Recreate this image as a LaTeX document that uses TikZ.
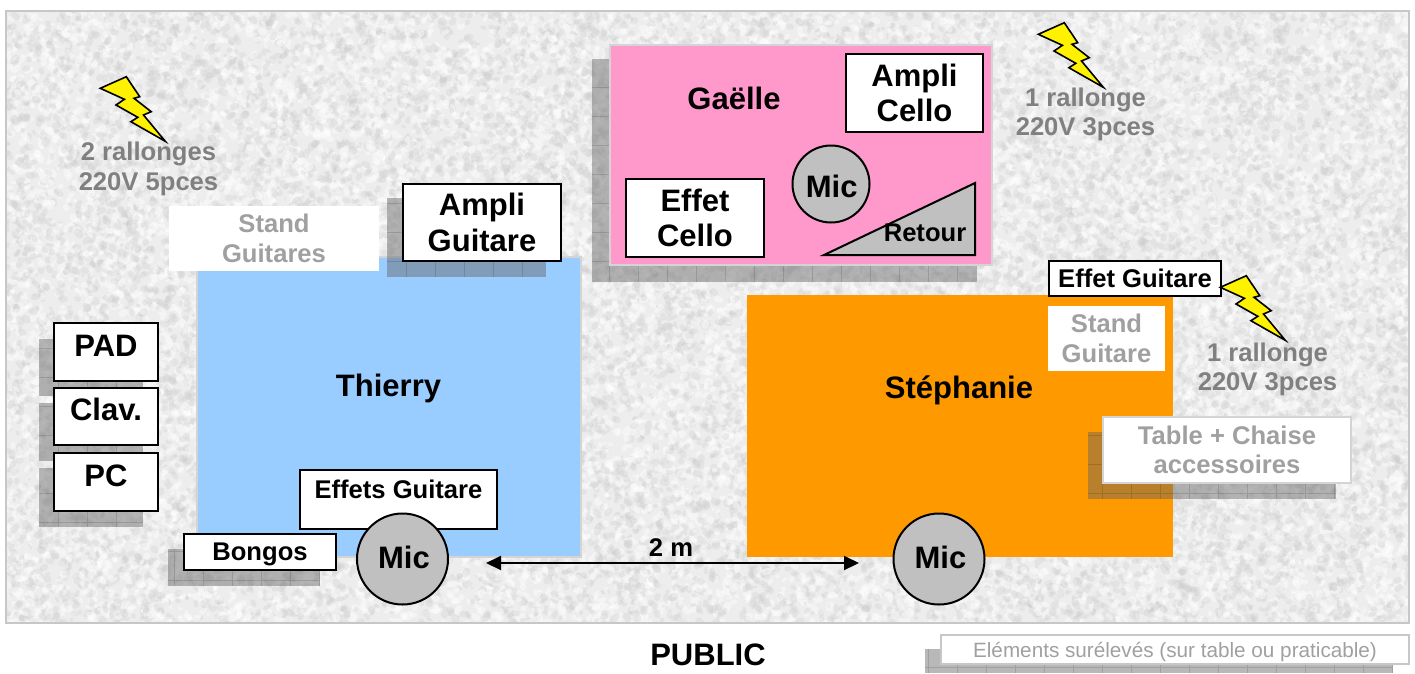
\documentclass[tikz,border=0pt]{standalone}
\usepackage{fontspec}
\usetikzlibrary{arrows.meta}
\setmainfont{Liberation Sans}
\newcommand{\fbig}{\fontsize{31}{35.5}\selectfont\bfseries}
\newcommand{\fmid}{\fontsize{25.6}{29.5}\selectfont\bfseries}
\newcommand{\shadowrect}[4]{%
  \fill[shadowfill] (#1,#2) rectangle (#3,#4);
  \begin{scope}
    \clip (#1,#2) rectangle (#3,#4);
    \draw[shadowgrid] (#1,#2) ++(-0.5,-0.5) grid[step=29pt] (#3,#4);
  \end{scope}}
\definecolor{thierryblue}{HTML}{99CCFF}
\definecolor{gaellepink}{HTML}{FF99CC}
\definecolor{stephorange}{HTML}{FF9900}
\definecolor{micgray}{HTML}{C0C0C0}
\definecolor{labelgray}{HTML}{808080}
\definecolor{palegray}{HTML}{A0A0A0}
\definecolor{edgegray}{HTML}{D4D4D4}
\definecolor{shadowgray}{HTML}{626262}
\tikzset{
  shadowfill/.style={fill=shadowgray,fill opacity=.45},
  shadowgrid/.style={draw=black,draw opacity=.13,line width=.8pt},
  zone/.style={draw=edgegray,line width=1.5pt,inner sep=0pt},
  blackbox/.style={draw=black,fill=white,line width=2pt,inner sep=0pt,align=center,text=black},
  palebox/.style={fill=white,inner sep=0pt,align=center,text=palegray,font=\fmid},
  micnode/.style={circle,draw=black,fill=micgray,line width=2pt,inner sep=0pt,font=\fbig},
  bolt/.style={fill=yellow,draw=black,line width=1.6pt,line join=miter},
  greytext/.style={text=labelgray,font=\fmid,align=center,inner sep=0pt},
  nametext/.style={font=\fbig,inner sep=0pt,text=black}
}
\newcommand{\boltshape}[2]{%
  \draw[bolt,shift={(#1,#2)}] (100.3,88.3) -- (126.3,76.7) -- (139.7,96.7) -- (134,98.3) -- (151.2,111.7) -- (143.5,115) -- (165.3,141.3) -- (130.9,121.7) -- (137.8,117.3) -- (116,105) -- (124.4,99.3) -- cycle;}
\begin{document}
\begin{tikzpicture}[x=1pt,y=-1pt]
\useasboundingbox (0,0) rectangle (1415,673);
\fill[white] (0,0) rectangle (1415,673);
% textured floor
\fill[white!93!black] (6,11) rectangle (1409,623);
\begin{scope}
  \clip (6,11) rectangle (1409,623);
  \pgfmathsetseed{1234}
  \foreach \j in {1,...,150}{
    \pgfmathsetmacro{\wa}{random(25,70)/10}
    \pgfmathsetmacro{\wb}{random(25,70)/10}
    \draw[white!80!black,draw opacity=.3,line cap=round,line width=\wa pt] foreach \i in {1,...,100} {({random(6,1409)},{random(11,623)}) -- ++({random(-3,3)},{random(-3,3)})};
    \draw[white,draw opacity=.4,line cap=round,line width=\wb pt] foreach \i in {1,...,100} {({random(6,1409)},{random(11,623)}) -- ++({random(-3,3)},{random(-3,3)})};
  }
\end{scope}
\draw[white!78!black,line width=2pt] (6,11) rectangle (1409,623);
% zones
\node[zone,fill=thierryblue,minimum width=384pt,minimum height=300pt] (thierry) at (389,407) {};
\node[zone,fill=stephorange,draw=none,minimum width=426pt,minimum height=262pt] (stephanie) at (960,426) {};
\shadowrect{592}{59}{977}{282}
\node[zone,fill=gaellepink,minimum width=382pt,minimum height=220pt] (gaelle) at (801,155) {};
\node[nametext] (tThierry) at (388.5,388) {Thierry};
\node[nametext] (tSteph) at (959,390.5) {Stéphanie};
\node[nametext] (tGaelle) at (734,98) {Gaëlle};
% shadows
\shadowrect{387}{198}{546}{277}
\shadowrect{39}{339}{143}{396}
\shadowrect{39}{403}{143}{461}
\shadowrect{39}{468}{143}{527}
\shadowrect{168}{549}{320}{586}
\shadowrect{1088}{432}{1336}{499}
\shadowrect{925}{649}{1393}{673}
% boxes
\node[palebox,minimum width=210pt,minimum height=65pt] (standG) at (274,238.5) {Stand\\Guitares};
\node[blackbox,font=\fbig,minimum width=158pt,minimum height=77pt] (amplig) at (482,222.5) {Ampli\\Guitare};
\node[blackbox,font=\fbig,minimum width=104pt,minimum height=58pt] (pad) at (106,352) {\raisebox{13pt}{PAD}};
\node[blackbox,font=\fbig,minimum width=104pt,minimum height=57pt] (clav) at (106,416.5) {\raisebox{14pt}{Clav.}};
\node[blackbox,font=\fbig,minimum width=104pt,minimum height=58pt] (pc) at (106,482) {\raisebox{13pt}{PC}};
\node[blackbox,font=\fmid,minimum width=197pt,minimum height=59pt] (effets) at (398.5,499.5) {\raisebox{21pt}{Effets Guitare}};
\node[blackbox,font=\fmid,minimum width=152pt,minimum height=36pt] (bongos) at (260,552) {\raisebox{-2pt}[\height][\depth]{Bongos}};
\node[micnode,minimum size=91pt] (micT) at (402.5,559) {\kern3pt\raisebox{4pt}{Mic}};
\node[micnode,minimum size=91pt] (micS) at (939,559) {\kern3pt\raisebox{4pt}{Mic}};
\node[micnode,minimum size=77pt] (micG) at (831,184) {\kern1.5pt\raisebox{-2pt}[\height][\depth]{Mic}};
\node[blackbox,font=\fbig,minimum width=137pt,minimum height=78pt] (amplic) at (914.5,93) {Ampli\\Cello};
\node[blackbox,font=\fbig,minimum width=138pt,minimum height=78pt] (effetc) at (695,218) {Effet\\Cello};
\draw[fill=micgray,line width=2pt,line join=miter] (824,255) -- (975,183) -- (975,255) -- cycle;
\node[font=\fmid,inner sep=0pt] (retour) at (925,233) {Retour};
\node[blackbox,font=\fmid,minimum width=172pt,minimum height=35pt] (effetg) at (1135,278.5) {Effet Guitare};
\node[palebox,minimum width=117pt,minimum height=65pt] (standS) at (1106.5,338.5) {Stand\\Guitare};
\node[palebox,draw=edgegray,line width=1.5pt,minimum width=248pt,minimum height=66pt] (table) at (1227,450) {Table + Chaise\\accessoires};
\node[draw=white!78!black,line width=1.5pt,fill=white,text=palegray,font=\fontsize{20.7}{24}\selectfont,minimum width=468pt,minimum height=29pt,inner sep=0pt] (legend) at (1175,649.5) {\raisebox{-3pt}[\height][\depth]{Eléments surélevés (sur table ou praticable)}};
% bolts
\boltshape{0}{0}
\boltshape{938}{-54}
\boltshape{1120}{199}
% labels
\node[greytext] (r1) at (148.5,169) {2 rallonges\\220V 5pces};
\node[greytext] (r2) at (1085.5,114.5) {1 rallonge\\220V 3pces};
\node[greytext] (r3) at (1267.5,369.5) {1 rallonge\\220V 3pces};
% dimension
\coordinate (dimL) at (486,563);
\coordinate (dimR) at (859,563);
\draw[line width=2pt,{Stealth[length=15pt,width=14pt,inset=0pt]}-{Stealth[length=15pt,width=14pt,inset=0pt]}] (dimL) -- (dimR);
\node[font=\fmid,inner sep=0pt] (dim) at (671,548) {2 m};
\node[font=\fbig,inner sep=0pt] (public) at (708,655) {PUBLIC};
\end{tikzpicture}
\end{document}
